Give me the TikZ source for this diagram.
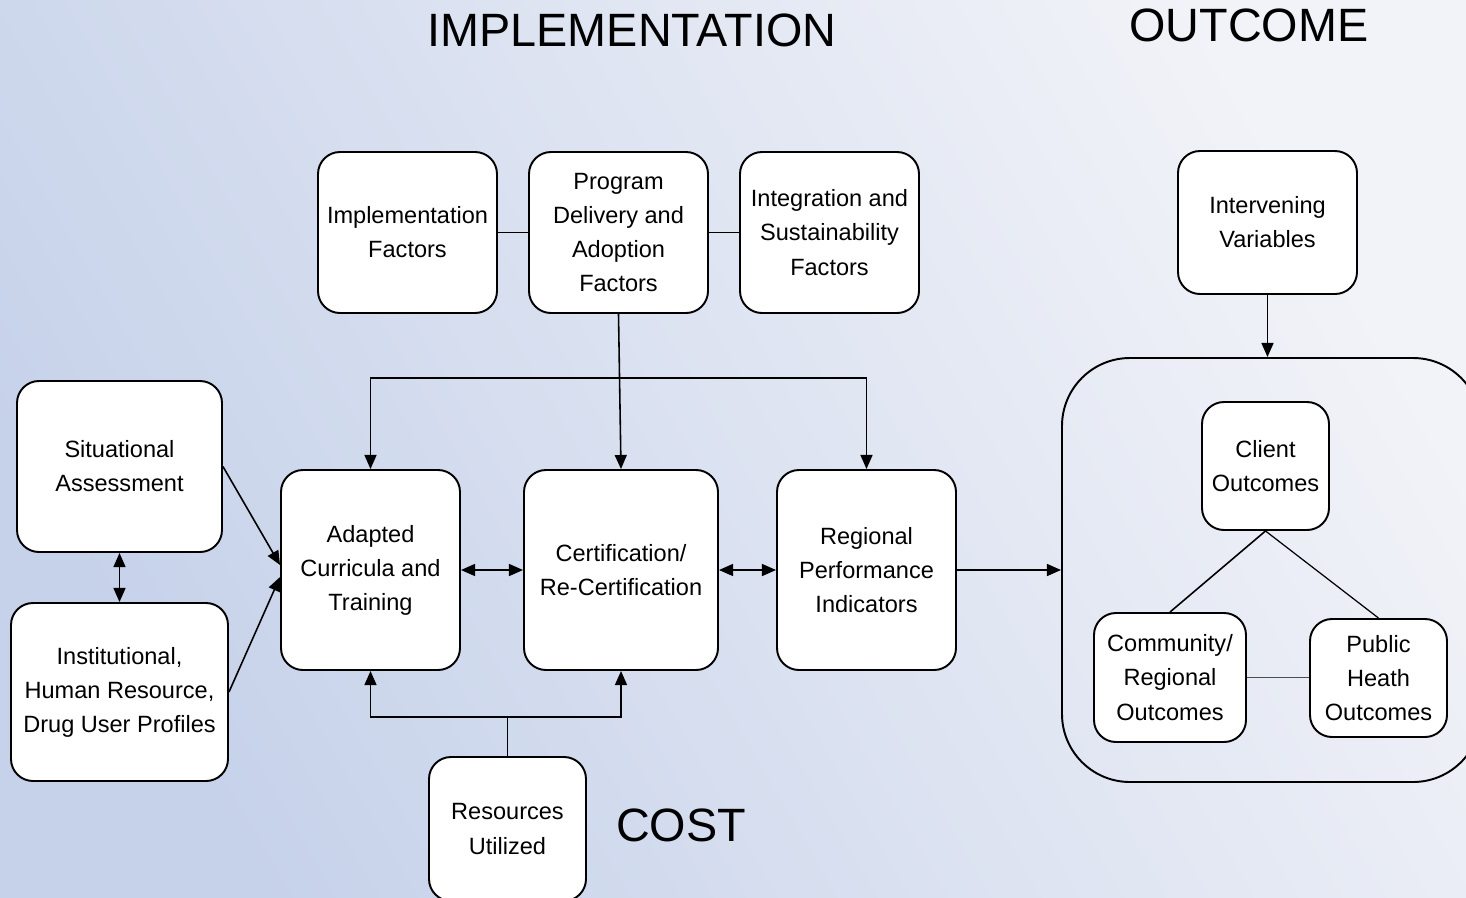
\documentclass[tikz,border=0pt]{standalone}
\usepackage{fontspec}
\setmainfont{Liberation Sans}
\usetikzlibrary{calc,arrows.meta}
\definecolor{bgdark}{RGB}{198,210,234}
\definecolor{bglight}{RGB}{242,243,248}
\tikzset{>={Triangle[length=4pt,width=3.4pt]},
    box/.style={draw, line width=0.55pt, rounded corners=0.22cm, fill=white, align=center,
        inner sep=0pt, font=\fontsize{6.7}{9.7}\selectfont},
    title/.style={font=\fontsize{13.3}{16}\selectfont},
    link/.style={line width=0.45pt}}

\begin{document}
\begin{tikzpicture}
    % background
    \shade[bottom color=bgdark, top color=bglight, shading angle=-60] (0,0) rectangle (14.66,-8.97);
    \useasboundingbox (0,0) rectangle (14.66,-8.97);

    \node[title] (timpl) at (6.32,-0.30) {IMPLEMENTATION};
    \node[title] (tout) at (12.49,-0.25) {OUTCOME};
    \node[title] (tcost) at (6.81,-8.25) {COST};

    % implementation factors
    \node[box, minimum width=1.79cm, minimum height=1.61cm] (impl) at (4.075,-2.325) {Implementation\\Factors};
    \node[box, minimum width=1.79cm, minimum height=1.61cm] (prog) at (6.185,-2.325) {Program\\Delivery and\\Adoption\\Factors};
    \node[box, minimum width=1.79cm, minimum height=1.61cm] (integ) at (8.295,-2.325) {Integration and\\Sustainability\\Factors};
    \node[box, minimum width=1.79cm, minimum height=1.43cm] (inter) at (12.675,-2.225) {Intervening\\Variables};

    % inputs
    \node[box, minimum width=2.05cm, minimum height=1.71cm] (sit) at (1.195,-4.665) {Situational\\Assessment};
    \node[box, minimum width=2.17cm, minimum height=1.78cm] (inst) at (1.195,-6.92) {Institutional,\\Human Resource,\\Drug User Profiles};

    % main row
    \node[box, minimum width=1.79cm, minimum height=2.00cm] (adapt) at (3.705,-5.70) {Adapted\\Curricula and\\Training};
    \node[box, minimum width=1.94cm, minimum height=2.00cm] (cert) at (6.21,-5.70) {Certification/\\Re-Certification};
    \node[box, minimum width=1.79cm, minimum height=2.00cm] (reg) at (8.665,-5.70) {Regional\\Performance\\Indicators};
    \node[box, minimum width=1.57cm, minimum height=1.44cm] (res) at (5.075,-8.29) {Resources\\Utilized};

    % outcomes
    \node[draw, line width=0.55pt, rounded corners=0.68cm, minimum width=4.19cm, minimum height=4.24cm] (outbox) at (12.715,-5.70) {};
    \node[box, minimum width=1.27cm, minimum height=1.28cm] (client) at (12.655,-4.66) {Client\\Outcomes};
    \node[box, minimum width=1.52cm, minimum height=1.29cm] (comm) at (11.70,-6.775) {Community/\\Regional\\Outcomes};
    \node[box, minimum width=1.37cm, minimum height=1.18cm] (pub) at (13.785,-6.78) {Public\\Heath\\Outcomes};

    \draw[link] (impl.east) -- (prog.west);
    \draw[link] (prog.east) -- (integ.west);
    \draw[->,link] (prog.south) -- (cert.north);
    \draw[<->,link] (adapt.north) -- ++(0,0.91) -| (reg.north);
    \draw[->,link] (sit.east) -- ($(adapt.west)+(0,0.05)$);
    \draw[->,link] (inst.east) -- ($(adapt.west)+(0,-0.07)$);
    \draw[<->,link] (sit.south) -- (inst.north);
    \draw[<->,link] (adapt.east) -- (cert.west);
    \draw[<->,link] (cert.east) -- (reg.west);
    \coordinate (rj) at (5.075,-7.17);
    \draw[link] (res.north) -- (rj);
    \draw[->,link] (rj) -| (adapt.south);
    \draw[->,link] (rj) -| (cert.south);
    \draw[->,link] (reg.east) -- (reg.east -| outbox.west);
    \draw[->,link] (inter.south) -- (inter.south |- outbox.north);
    \draw[link] (client.south) -- (comm.north);
    \draw[line width=0.35pt] (client.south) -- (pub.north);
    \draw[link, black!70] (comm.east) -- (comm.east -| pub.west);
\end{tikzpicture}
\end{document}
